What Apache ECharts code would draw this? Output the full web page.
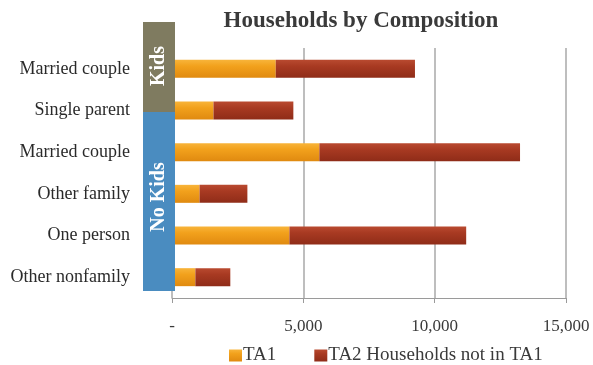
<!DOCTYPE html>
<html>
<head>
<meta charset="utf-8">
<style>
  html, body { margin: 0; padding: 0; background: #ffffff; }
  #chart { width: 593px; height: 365px; }
</style>
<script src="https://cdn.jsdelivr.net/npm/echarts@6/dist/echarts.min.js"></script>
</head>
<body>
<div id="chart"></div>
<script>
// Household types, top to bottom
var categories = ['Married couple', 'Single parent', 'Married couple', 'Other family', 'One person', 'Other nonfamily'];
// Households in TA1
var ta1 = [3950, 1580, 5610, 1050, 4470, 890];
// Additional TA2 households not in TA1 (stacked on TA1)
var ta2NotTa1 = [5300, 3040, 7640, 1820, 6730, 1330];
var seriesNames = ['TA1', 'TA2 Households not in TA1'];
var xTicks = [0, 5000, 10000, 15000];
var groupLabels = ['Kids', 'No Kids'];

var serif = '"Liberation Serif", "DejaVu Serif", serif';

function barGradient(light, mid, dark) {
  return new echarts.graphic.LinearGradient(0, 0, 0, 1, [
    { offset: 0, color: light },
    { offset: 0.35, color: mid },
    { offset: 1, color: dark }
  ]);
}

var chart = echarts.init(document.getElementById('chart'), null, { renderer: 'canvas' });

var option = {
  backgroundColor: '#ffffff',
  animation: false,
  title: {
    text: 'Households by Composition',
    left: 356,
    textAlign: 'center',
    top: 5,
    textStyle: { fontFamily: serif, fontWeight: 'bold', fontSize: 23, color: '#3a3a3a' }
  },
  legend: {
    left: 224,
    top: 341,
    itemWidth: 13,
    itemHeight: 12,
    itemGap: 38,
    icon: 'rect',
    data: seriesNames,
    textStyle: { fontFamily: serif, fontSize: 19, color: '#3a3a3a', padding: [0, 0, 0, -4] }
  },
  grid: { left: 172, right: 27, top: 48, bottom: 67, containLabel: false },
  xAxis: {
    type: 'value',
    min: xTicks[0],
    max: xTicks[xTicks.length - 1],
    interval: xTicks[1] - xTicks[0],
    axisLine: { show: true, lineStyle: { color: '#9a9a9a', width: 1 } },
    axisTick: { show: true, length: 5, lineStyle: { color: '#9a9a9a' } },
    splitLine: { show: true, lineStyle: { color: '#a8a8a8', width: 1.5 } },
    axisLabel: {
      margin: 20,
      fontFamily: serif,
      fontSize: 17,
      color: '#3a3a3a',
      formatter: function (v) { return v === 0 ? '-' : v.toLocaleString('en-US'); }
    }
  },
  yAxis: {
    type: 'category',
    inverse: true,
    data: categories,
    axisLine: { show: false },
    axisTick: { show: false },
    axisLabel: { margin: 42, fontFamily: serif, fontSize: 18, color: '#2a2a2a' }
  },
  series: [
    {
      name: seriesNames[0],
      type: 'bar',
      stack: 'total',
      barWidth: 18,
      data: ta1,
      itemStyle: { color: barGradient('#f8b43a', '#f2a11c', '#e08a10') }
    },
    {
      name: seriesNames[1],
      type: 'bar',
      stack: 'total',
      barWidth: 18,
      data: ta2NotTa1,
      itemStyle: { color: barGradient('#b94a30', '#a83a22', '#8f2c18') }
    }
  ],
  graphic: [
    {
      type: 'rect',
      shape: { x: 143, y: 22, width: 32, height: 90 },
      style: { fill: '#7f7b60' },
      z: 10
    },
    {
      type: 'rect',
      shape: { x: 143, y: 112, width: 32, height: 179 },
      style: { fill: '#4a8cc0' },
      z: 10
    },
    {
      type: 'text',
      x: 159, y: 66,
      rotation: Math.PI / 2,
      style: {
        text: groupLabels[0], fill: '#ffffff', font: 'bold 20px ' + serif,
        textAlign: 'center', textVerticalAlign: 'middle'
      },
      z: 11
    },
    {
      type: 'text',
      x: 159, y: 197,
      rotation: Math.PI / 2,
      style: {
        text: groupLabels[1], fill: '#ffffff', font: 'bold 20px ' + serif,
        textAlign: 'center', textVerticalAlign: 'middle'
      },
      z: 11
    }
  ]
};

chart.setOption(option);
</script>
</body>
</html>
